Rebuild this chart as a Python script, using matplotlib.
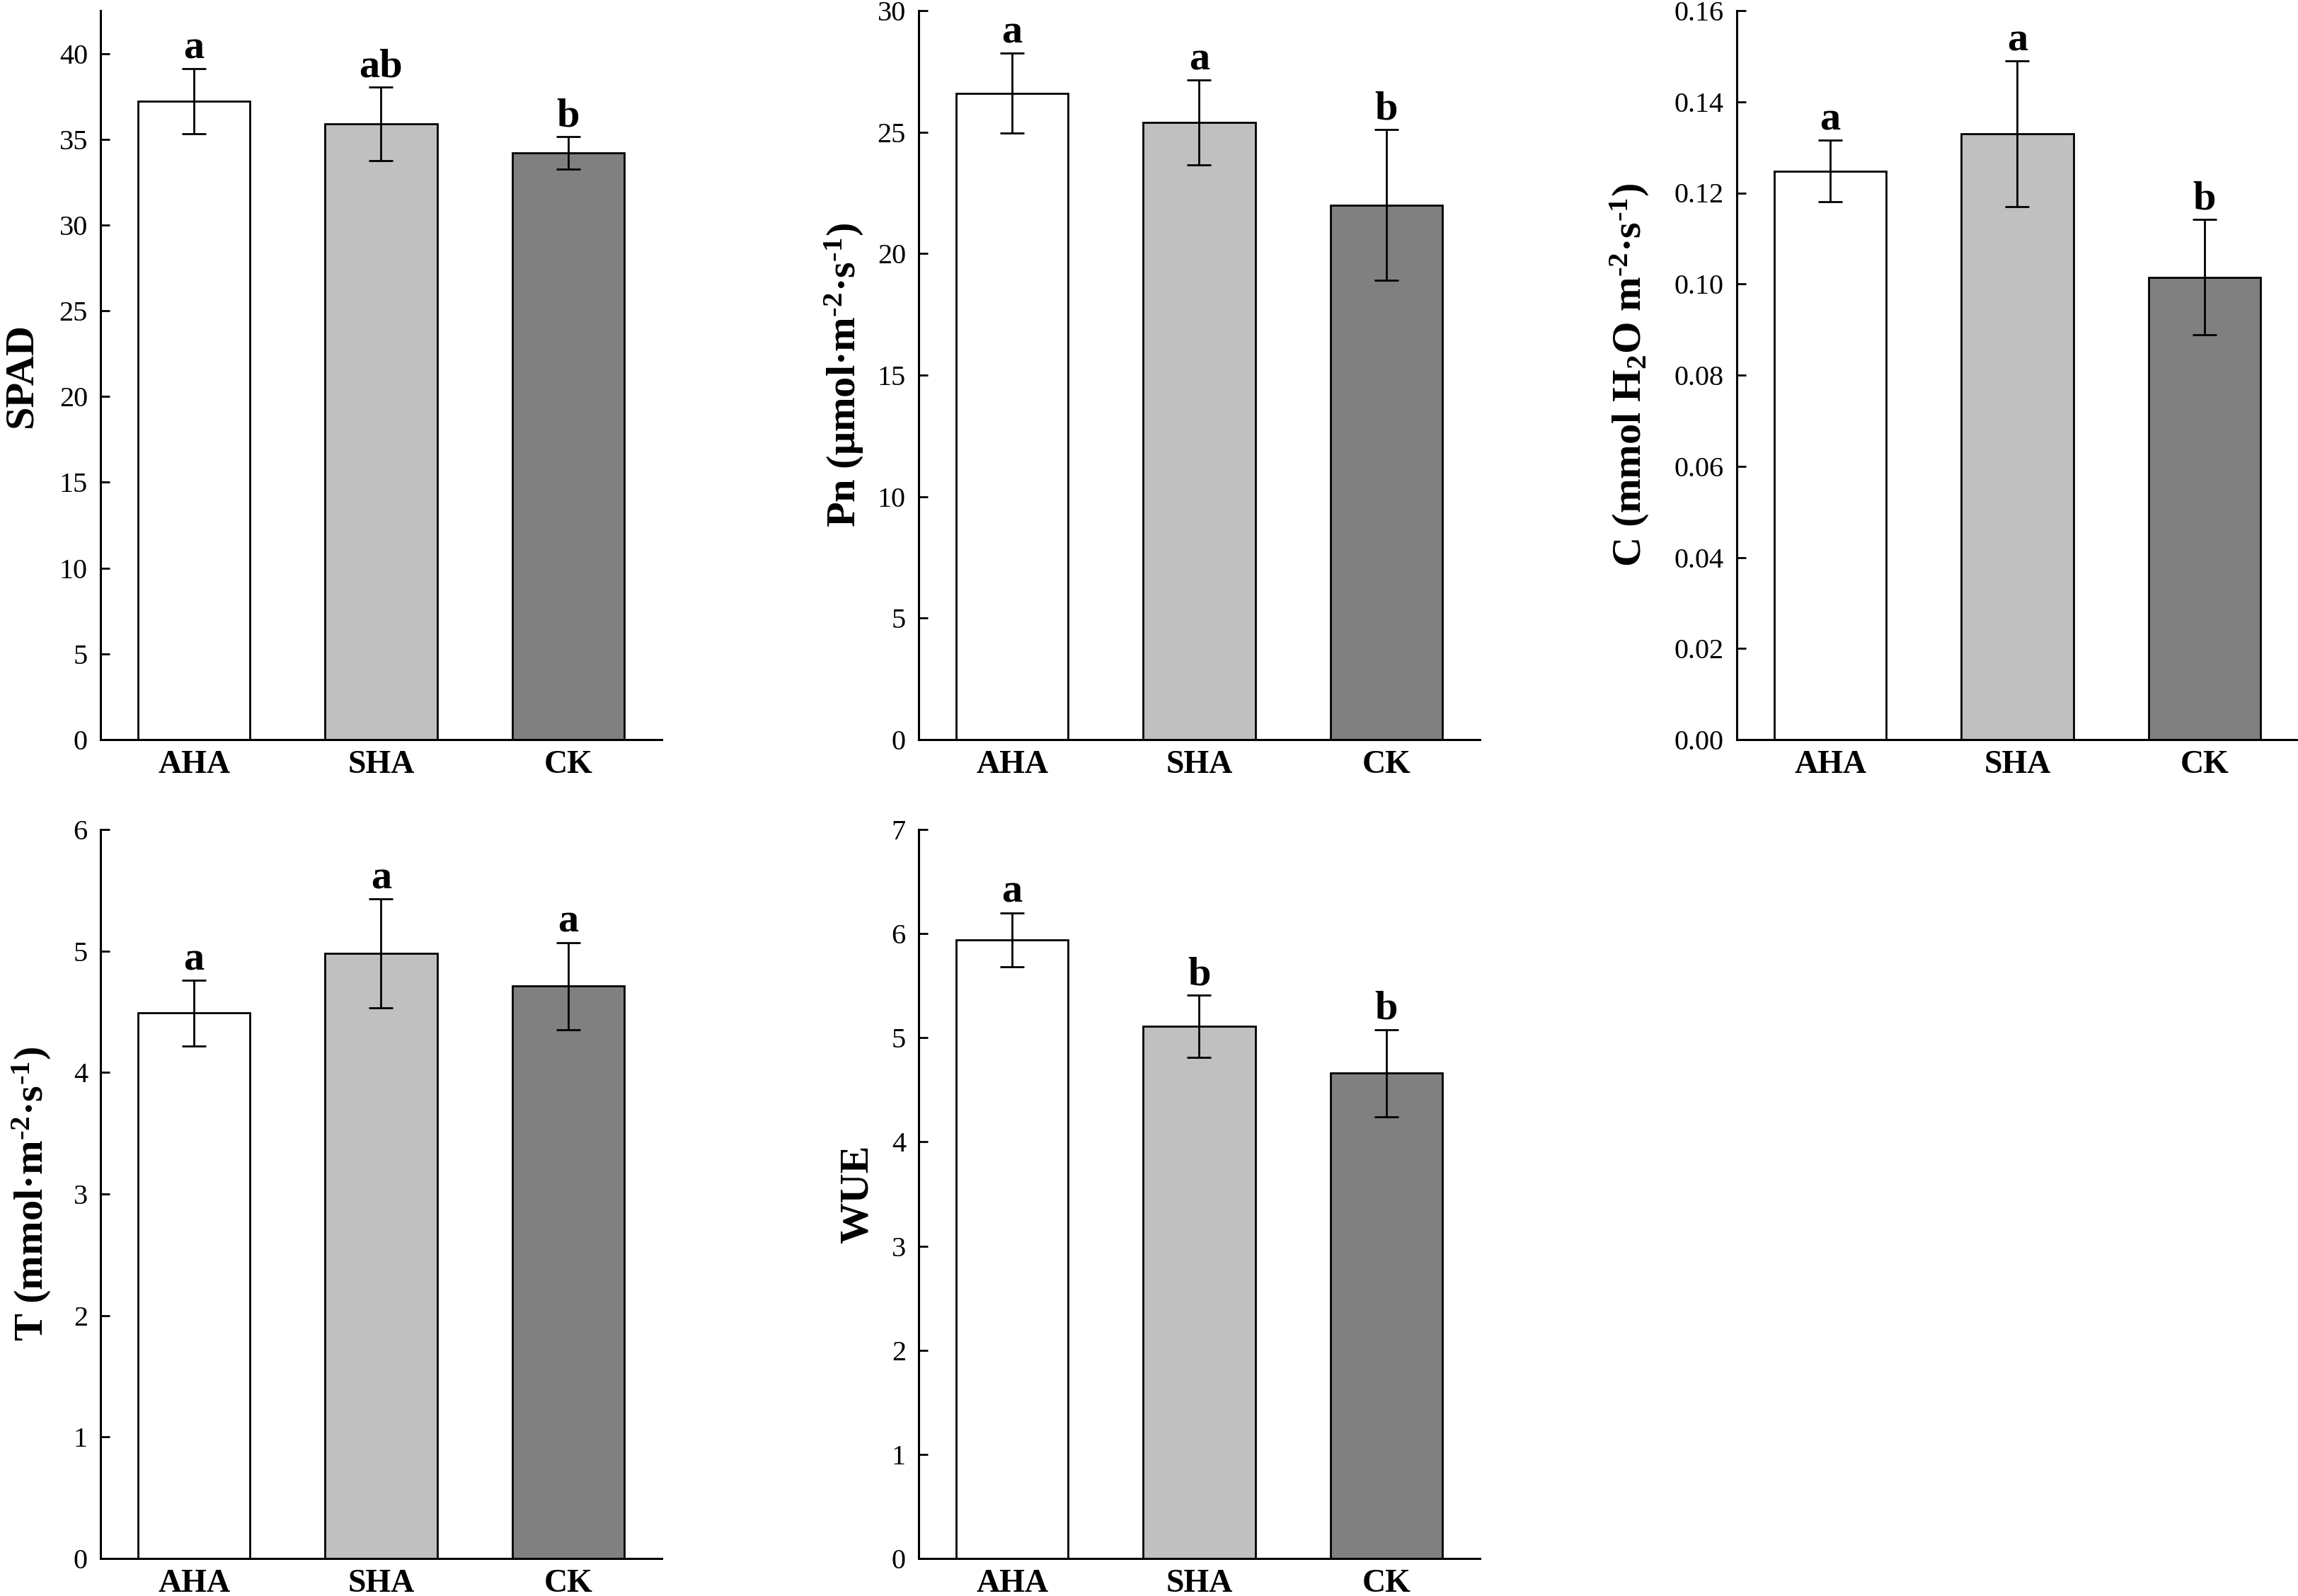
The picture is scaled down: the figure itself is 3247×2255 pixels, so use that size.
import matplotlib
matplotlib.use("Agg")
import matplotlib.pyplot as plt

plt.rcParams['font.family'] = ['Liberation Serif', 'DejaVu Serif']
plt.rcParams['mathtext.fontset'] = 'custom'
plt.rcParams['mathtext.rm'] = 'Liberation Serif:bold'
plt.rcParams['mathtext.bf'] = 'Liberation Serif:bold'
plt.rcParams['mathtext.it'] = 'Liberation Serif:bold:italic'
plt.rcParams['mathtext.default'] = 'bf'

treatments = ['AHA', 'SHA', 'CK']
bar_colors = ['#FFFFFF', '#C0C0C0', '#808080']

spad = [37.2, 35.9, 34.2]
spad_err = [1.9, 2.15, 0.95]
spad_sig = ['a', 'ab', 'b']

pn = [26.6, 25.4, 22.0]
pn_err = [1.65, 1.75, 3.1]
pn_sig = ['a', 'a', 'b']

cond = [0.1248, 0.1330, 0.1015]
cond_err = [0.0068, 0.016, 0.0127]
cond_sig = ['a', 'a', 'b']

trans = [4.49, 4.98, 4.71]
trans_err = [0.27, 0.45, 0.36]
trans_sig = ['a', 'a', 'a']

wue = [5.94, 5.11, 4.66]
wue_err = [0.26, 0.30, 0.42]
wue_sig = ['a', 'b', 'b']

# superscripts with a plain hyphen, as in the original figure
m2 = r'm$^{\text{-}2}$'
s1 = r's$^{\text{-}1}$'

panels = [
    # values, errors, letters, ylabel, ylim, ticks, tick format, label x
    (spad, spad_err, spad_sig, 'SPAD', 42.5, range(0, 41, 5), '{:.0f}', -0.108),
    (pn, pn_err, pn_sig, f'Pn (μmol·{m2}·{s1})', 30, range(0, 31, 5), '{:.0f}', -0.095),
    (cond, cond_err, cond_sig, f'C (mmol H$_{{2}}$O {m2}·{s1})', 0.16,
     [i * 0.02 for i in range(9)], '{:.2f}', -0.153),
    (trans, trans_err, trans_sig, f'T (mmol·{m2}·{s1})', 6, range(0, 7), '{:.0f}', -0.085),
    (wue, wue_err, wue_sig, 'WUE', 7, range(0, 8), '{:.0f}', -0.076),
]

W, H = 3248, 2255
fig = plt.figure(figsize=(W / 100, H / 100), dpi=100)

lefts = [142, 1298, 2454, 142, 1298]
bottoms = [1045, 1045, 1045, 2202, 2202]
ax_w, ax_h = 793, 1030

x = range(len(treatments))
for k, (vals, errs, sig, ylab, ymax, ticks, fmt, lx) in enumerate(panels):
    ax = fig.add_axes([lefts[k] / W, 1 - bottoms[k] / H, ax_w / W, ax_h / H])
    ax.bar(x, vals, width=0.6, color=bar_colors, edgecolor='black', linewidth=2, zorder=2)
    ax.errorbar(x, vals, yerr=errs, fmt='none', ecolor='black', elinewidth=2,
                capsize=12.5, capthick=2, zorder=3)
    for i, (v, e, s) in enumerate(zip(vals, errs, sig)):
        ax.annotate(s, (i, v + e), xytext=(0, 2), textcoords='offset points',
                    ha='center', va='bottom', fontsize=42, fontweight='bold')
    ax.set_xlim(-0.5, 2.5)
    ax.set_ylim(0, ymax)
    ax.set_yticks(list(ticks))
    ax.set_yticklabels([fmt.format(t) for t in ticks])
    ax.set_xticks(list(x))
    ax.set_xticklabels(treatments, fontsize=33, fontweight='bold')
    ax.tick_params(axis='y', direction='in', length=9.5, width=2, labelsize=29, pad=13)
    ax.tick_params(axis='x', length=0, pad=11)
    for side in ['top', 'right']:
        ax.spines[side].set_visible(False)
    for side in ['left', 'bottom']:
        ax.spines[side].set_linewidth(2.2)
    ax.set_ylabel(ylab, fontsize=42, fontweight='bold')
    ax.yaxis.set_label_coords(lx, 0.5)

fig.savefig('out.png', dpi=100, facecolor='white')
